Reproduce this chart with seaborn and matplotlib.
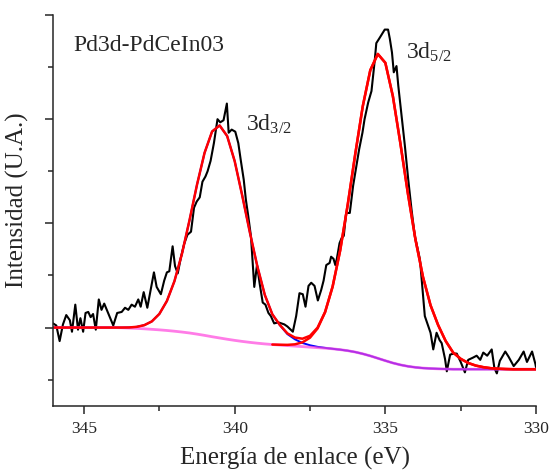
import numpy as np
import pandas as pd
import matplotlib
matplotlib.use("Agg")
import matplotlib.pyplot as plt
from matplotlib.ticker import MultipleLocator, NullFormatter
import seaborn as sns

# ---- raw spectrum (binding energy eV, intensity in arbitrary units) ----
raw_be = [346.03, 345.92, 345.81, 345.70, 345.59, 345.47, 345.40, 345.29, 345.20, 345.12,
          345.03, 344.95, 344.86, 344.78, 344.70, 344.61, 344.51, 344.42, 344.33, 344.20,
          344.03, 343.90, 343.75, 343.64, 343.53, 343.42, 343.31, 343.20, 343.12, 343.02,
          342.90, 342.79, 342.68, 342.59, 342.45, 342.34, 342.25, 342.17, 342.06, 341.98,
          341.89, 341.78, 341.68, 341.57, 341.45, 341.35, 341.26, 341.16, 341.07, 340.97,
          340.90, 340.80, 340.69, 340.57, 340.48, 340.37, 340.26, 340.20, 340.10, 339.98,
          339.88, 339.80, 339.70, 339.63, 339.55, 339.46, 339.35, 339.26, 339.17, 339.07,
          338.98, 338.88, 338.80, 338.69, 338.55, 338.35, 338.25, 338.07, 337.96, 337.85,
          337.74, 337.65, 337.55, 337.46, 337.35, 337.24, 337.13, 337.05, 336.96, 336.85,
          336.80, 336.72, 336.66, 336.61, 336.52, 336.45, 336.38, 336.30, 336.18, 336.07,
          335.96, 335.87, 335.76, 335.69, 335.57, 335.46, 335.41, 335.35, 335.30, 335.19,
          335.02, 334.91, 334.85, 334.78, 334.72, 334.63, 334.57, 334.46, 334.35, 334.24,
          334.13, 334.02, 333.90, 333.85, 333.74, 333.69, 333.62, 333.57, 333.50, 333.41,
          333.30, 333.20, 333.13, 333.02, 332.96, 332.85, 332.74, 332.63, 332.50, 332.36,
          332.25, 332.10, 331.97, 331.85, 331.75, 331.62, 331.47, 331.38, 331.30, 331.20,
          331.02, 330.91, 330.74, 330.57, 330.41, 330.30, 330.13, 330.02, 330.00]
raw_int = [0.04, 0.02, -0.13, 0.03, 0.12, 0.07, -0.04, 0.22, -0.02, 0.09,
           -0.04, 0.14, 0.15, 0.10, 0.13, -0.02, 0.27, 0.17, 0.23, 0.14,
           0.02, 0.14, 0.15, 0.19, 0.17, 0.22, 0.20, 0.27, 0.20, 0.34,
           0.19, 0.36, 0.53, 0.39, 0.32, 0.45, 0.53, 0.54, 0.78, 0.59,
           0.52, 0.68, 0.80, 0.89, 0.92, 1.15, 1.21, 1.25, 1.40, 1.45,
           1.50, 1.60, 1.77, 2.00, 1.97, 1.99, 2.15, 1.87, 1.90, 1.88,
           1.77, 1.61, 1.42, 1.23, 1.07, 0.875, 0.39, 0.60, 0.42, 0.24,
           0.22, 0.14, 0.11, 0.04, 0.05, 0.03, 0.01, -0.04, 0.11, 0.33,
           0.32, 0.20, 0.40, 0.43, 0.40, 0.26, 0.36, 0.45, 0.60, 0.62,
           0.68, 0.66, 0.60, 0.66, 0.81, 0.86, 0.88, 1.10, 1.10, 1.36,
           1.55, 1.71, 1.87, 2.00, 2.16, 2.27, 2.41, 2.57, 2.73, 2.78,
           2.86, 2.86, 2.77, 2.64, 2.45, 2.51, 2.32, 2.03, 1.74, 1.42,
           1.13, 0.875, 0.72, 0.65, 0.27, 0.11, 0.05, 0.01, -0.05, -0.21,
           -0.05, -0.12, -0.15, -0.30, -0.42, -0.26, -0.25, -0.25, -0.33, -0.43,
           -0.31, -0.29, -0.27, -0.31, -0.24, -0.27, -0.21, -0.39, -0.44, -0.32,
           -0.23, -0.28, -0.37, -0.31, -0.23, -0.33, -0.23, -0.35, -0.38]

# ---- fit curves on a 0.25 eV grid ----
fit_be = [346.0, 345.75, 345.5, 345.25, 345.0, 344.75, 344.5, 344.25, 344.0,
          343.75, 343.5, 343.25, 343.0, 342.75, 342.5, 342.25, 342.0, 341.75, 341.5,
          341.25, 341.0, 340.75, 340.5, 340.25, 340.0, 339.75, 339.5, 339.25, 339.0,
          338.75, 338.5, 338.25, 338.0, 337.75, 337.5, 337.25, 337.0, 336.75, 336.5,
          336.25, 336.0, 335.75, 335.5, 335.25, 335.0, 334.75, 334.5, 334.25, 334.0,
          333.75, 333.5, 333.25, 333.0, 332.75, 332.5, 332.25, 332.0, 331.75, 331.5,
          331.25, 331.0, 330.75, 330.5, 330.25, 330.0]
background = [0, 0, 0, 0, 0, 0, 0, 0, 0,
              -0.002, -0.005, -0.008, -0.012, -0.017, -0.022, -0.028, -0.035, -0.043, -0.052,
              -0.063, -0.075, -0.088, -0.100, -0.112, -0.123, -0.133, -0.142, -0.150, -0.157,
              -0.163, -0.168, -0.173, -0.178, -0.183, -0.188, -0.193, -0.198, -0.204, -0.212,
              -0.222, -0.235, -0.252, -0.272, -0.295, -0.318, -0.340, -0.358, -0.372, -0.382,
              -0.389, -0.393, -0.396, -0.398, -0.4, -0.4, -0.4, -0.4, -0.4, -0.4,
              -0.4, -0.4, -0.4, -0.4, -0.4, -0.4]
peak_3d32 = [0, 0, 0, 0, 0, 0, 0, 0, 0,
             0.002, 0.006, 0.015, 0.035, 0.076, 0.153, 0.283, 0.480, 0.751, 1.082,
             1.435, 1.752, 1.970, 2.040, 1.950, 1.720, 1.400, 1.060, 0.740, 0.470,
             0.29, 0.19, 0.11, 0.065, 0.035, 0.018, 0.008, 0.003, 0, 0,
             0, 0, 0, 0, 0, 0, 0, 0, 0, 0,
             0, 0, 0, 0, 0, 0, 0, 0, 0, 0,
             0, 0, 0, 0, 0, 0]
peak_3d52 = [0, 0, 0, 0, 0, 0, 0, 0, 0,
             0, 0, 0, 0, 0, 0, 0, 0, 0, 0,
             0, 0, 0, 0, 0, 0, 0, 0, 0, 0,
             0, 0.003, 0.007, 0.017, 0.041, 0.091, 0.184, 0.345, 0.597, 0.951,
             1.399, 1.898, 2.375, 2.742, 2.921, 2.859, 2.560, 2.124, 1.655, 1.226,
             0.874, 0.607, 0.421, 0.27, 0.16, 0.10, 0.06, 0.035, 0.02, 0.01,
             0.005, 0.002, 0, 0, 0, 0]

raw = pd.DataFrame({"be": raw_be, "intensity": raw_int})
fit = pd.DataFrame({"be": fit_be, "bg": background, "p1": peak_3d32, "p2": peak_3d52})
fit["p1_bg"] = fit["p1"] + fit["bg"]
fit["p2_bg"] = fit["p2"] + fit["bg"]
fit["envelope"] = fit["p1"] + fit["p2"] + fit["bg"]
fit_p2 = fit[fit["be"] <= 338.75]

sns.set_style("ticks")
plt.rcParams["font.family"] = ["Liberation Serif", "DejaVu Serif"]
plt.rcParams["mathtext.fontset"] = "custom"
plt.rcParams["mathtext.rm"] = "Liberation Serif"
plt.rcParams["mathtext.it"] = "Liberation Serif:italic"

fig = plt.figure(figsize=(5.5, 4.71), dpi=100)
ax = fig.add_axes([53 / 550, 1 - 405.7 / 471, (536 - 53) / 550, (405.7 - 15) / 471])

kw = dict(ax=ax, sort=False, estimator=None, legend=False)
sns.lineplot(data=raw, x="be", y="intensity", color="black", linewidth=1.5, **kw)
sns.lineplot(data=fit, x="be", y="p1_bg", color="#0000ff", linewidth=1.4, **kw)
sns.lineplot(data=fit, x="be", y="bg", color="#ff44dd", alpha=0.7, linewidth=2.0, **kw)
sns.lineplot(data=fit_p2, x="be", y="p2_bg", color="#ff0000", linewidth=1.8, **kw)
sns.lineplot(data=fit, x="be", y="envelope", color="#ff0000", linewidth=1.8, **kw)

ax.set_xlim(346.03, 330)
ax.set_ylim(-0.75, 3.0)
ax.xaxis.set_major_locator(MultipleLocator(5))
ax.xaxis.set_minor_locator(MultipleLocator(2.5))
ax.yaxis.set_major_locator(MultipleLocator(1))
ax.yaxis.set_minor_locator(MultipleLocator(0.5))
ax.yaxis.set_major_formatter(NullFormatter())
ax.tick_params(which="major", direction="out", length=6, width=1.1, labelsize=12.5, pad=5)
ax.tick_params(which="minor", direction="out", length=3.5, width=1.1)
for s in ["left", "bottom"]:
    ax.spines[s].set_linewidth(1.1)
sns.despine(ax=ax)

ax.set_xlabel("Energía de enlace (eV)", fontsize=18, labelpad=7)
ax.set_ylabel("Intensidad (U.A.)", fontsize=18)
ax.yaxis.set_label_coords(-0.05, 0.527)

ax.text(345.36, 2.65, "Pd3d-PdCeIn03", fontsize=17, va="baseline", ha="left")
ax.text(339.63, 1.885, r"3d$_{\mathrm{3/2}}$", fontsize=17, va="baseline", ha="left")
ax.text(334.32, 2.58, r"3d$_{\mathrm{5/2}}$", fontsize=17, va="baseline", ha="left")

fig.savefig("out.png", dpi=100)
